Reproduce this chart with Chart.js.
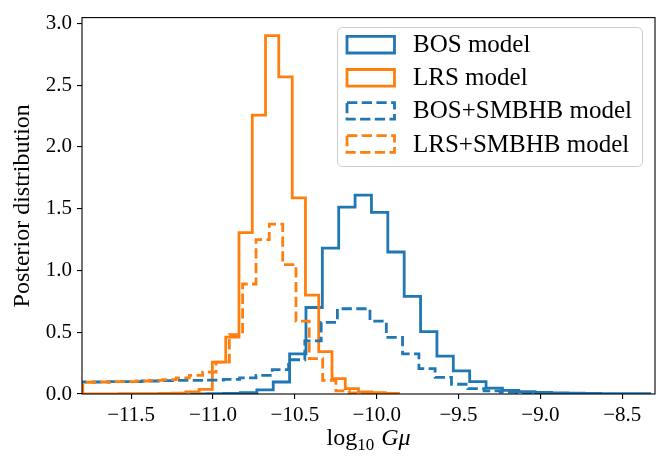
<!DOCTYPE html>
<html>
<head>
<meta charset="utf-8">
<script src="https://cdn.jsdelivr.net/npm/chart.js@4.4.1/dist/chart.umd.min.js"></script>
<style>
    body { margin: 0; background: #fff; }
    #wrap { width: 660px; height: 456px; }
</style>
</head>
<body>
<div id="wrap"><canvas id="myChart" width="660" height="456"></canvas></div>
<script>
const SERIF = "'Liberation Serif', 'DejaVu Serif', serif";

const xTicks = [-11.5, -11.0, -10.5, -10.0, -9.5, -9.0, -8.5];
const yTicks = [0, 0.5, 1.0, 1.5, 2.0, 2.5, 3.0];

const seriesLabels = ['BOS model', 'LRS model', 'BOS+SMBHB model', 'LRS+SMBHB model'];

// BOS model (solid blue)
const bosEdges = [-11.132, -11.032, -10.932, -10.832, -10.732, -10.632, -10.532, -10.432, -10.332, -10.232,
    -10.132, -10.032, -9.932, -9.832, -9.732, -9.632, -9.532, -9.432, -9.332, -9.232,
    -9.132, -9.032, -8.932, -8.832, -8.732, -8.632, -8.532, -8.432, -8.332];
const bosHeights = [0.001, 0.002, 0.004, 0.01, 0.033, 0.097, 0.325, 0.70, 1.18, 1.512,
    1.609, 1.47, 1.149, 0.79, 0.505, 0.307, 0.187, 0.10, 0.048, 0.03,
    0.02, 0.012, 0.008, 0.006, 0.004, 0.003, 0.002, 0.002];

// LRS model (solid orange)
const lrsEdges = [-11.816, -11.735, -11.653, -11.572, -11.491, -11.410, -11.328, -11.247, -11.166, -11.085,
    -11.004, -10.922, -10.841, -10.760, -10.679, -10.598, -10.516, -10.435, -10.354, -10.273,
    -10.192, -10.111, -10.029, -9.948, -9.867];
const lrsHeights = [0.001, 0.001, 0.001, 0.002, 0.002, 0.003, 0.004, 0.006, 0.017, 0.038,
    0.258, 0.46, 1.306, 2.256, 2.90, 2.567, 1.587, 0.80, 0.343, 0.124,
    0.044, 0.017, 0.01, 0.005];

// BOS+SMBHB model (dashed blue)
const bosSmbhbEdges = [-11.832, -11.732, -11.633, -11.533, -11.434, -11.334, -11.235, -11.135, -11.036, -10.936,
    -10.837, -10.737, -10.638, -10.538, -10.439, -10.339, -10.240, -10.140, -10.041, -9.941,
    -9.842, -9.742, -9.643, -9.543, -9.444, -9.344, -9.245, -9.145, -9.046, -8.946, -8.847];
const bosSmbhbHeights = [0.097, 0.097, 0.10, 0.10, 0.105, 0.108, 0.11, 0.11, 0.113, 0.118,
    0.13, 0.15, 0.197, 0.277, 0.43, 0.58, 0.69, 0.69, 0.59, 0.458,
    0.325, 0.205, 0.135, 0.079, 0.044, 0.025, 0.015, 0.009, 0.006, 0.004];

// LRS+SMBHB model (dashed orange)
const lrsSmbhbEdges = [-11.795, -11.714, -11.632, -11.551, -11.470, -11.388, -11.307, -11.225, -11.144, -11.063,
    -10.981, -10.900, -10.819, -10.737, -10.656, -10.574, -10.493, -10.412, -10.330, -10.249,
    -10.168, -10.086, -10.005];
const lrsSmbhbHeights = [0.095, 0.097, 0.10, 0.10, 0.105, 0.11, 0.116, 0.13, 0.15, 0.177,
    0.258, 0.48, 0.89, 1.25, 1.375, 1.047, 0.59, 0.287, 0.11, 0.025,
    0.008, 0.003];

// step outline like matplotlib histtype='step'
const histPoints = (edges, heights) => {
    const pts = [{x: edges[0], y: 0}];
    heights.forEach((h, i) => pts.push({x: edges[i], y: h}));
    const last = edges[edges.length - 1];
    pts.push({x: last, y: heights[heights.length - 1]});
    pts.push({x: last, y: 0});
    return pts;
};

const blue = '#1f77b4';
const orange = '#ff7f0e';
const dash = [10.3, 4.4];

const makeSet = (label, edges, heights, color, dashed, order) => ({
    label: label,
    data: histPoints(edges, heights),
    borderColor: color,
    backgroundColor: 'rgba(0,0,0,0)',
    borderWidth: 2.8,
    borderDash: dashed ? dash : [],
    borderJoinStyle: 'miter',
    stepped: 'before',
    pointRadius: 0,
    fill: false,
    order: order
});

const overlayPlugin = {
    id: 'overlay',
    afterDatasetsDraw(chart) {
        const ctx = chart.ctx;
        const a = chart.chartArea;
        ctx.save();

        // spines on top of the data
        ctx.setLineDash([]);
        ctx.strokeStyle = '#000';
        ctx.lineWidth = 1.1;
        ctx.strokeRect(a.left, a.top, a.right - a.left, a.bottom - a.top);

        // legend box
        const lx = 337.5, ly = 27.5, lw = 305, lh = 139;
        ctx.beginPath();
        ctx.roundRect(lx, ly, lw, lh, 5);
        ctx.fillStyle = 'rgba(255,255,255,0.8)';
        ctx.fill();
        ctx.strokeStyle = '#cccccc';
        ctx.lineWidth = 1;
        ctx.stroke();

        chart.data.datasets.forEach((ds, i) => {
            const cy = 44.7 + i * 33.1;
            ctx.beginPath();
            ctx.rect(347, cy - 8.3, 47.5, 16.6);
            ctx.strokeStyle = ds.borderColor;
            ctx.lineWidth = ds.borderWidth;
            ctx.lineJoin = 'miter';
            ctx.setLineDash(ds.borderDash);
            ctx.stroke();
            ctx.setLineDash([]);
            ctx.fillStyle = '#000';
            ctx.font = '25px ' + SERIF;
            ctx.textBaseline = 'middle';
            ctx.textAlign = 'left';
            ctx.fillText(ds.label, 413, cy + 1);
        });

        // x axis title: log10 G mu
        const big = '24px ' + SERIF;
        const small = '17px ' + SERIF;
        const ital = 'italic 24px ' + SERIF;
        ctx.font = big;
        const w1 = ctx.measureText('log').width;
        ctx.font = small;
        const w2 = ctx.measureText('10').width;
        ctx.font = ital;
        const w3 = ctx.measureText('Gμ').width;
        const gap = 7;
        let x = (a.left + a.right) / 2 - (w1 + w2 + gap + w3) / 2;
        const base = 445;
        ctx.textBaseline = 'alphabetic';
        ctx.fillStyle = '#000';
        ctx.font = big;
        ctx.fillText('log', x, base);
        x += w1;
        ctx.font = small;
        ctx.fillText('10', x, base + 5);
        x += w2 + gap;
        ctx.font = ital;
        ctx.fillText('Gμ', x, base);

        ctx.restore();
    }
};

Chart.defaults.color = '#000';
Chart.defaults.font.family = SERIF;

const ctx = document.getElementById('myChart');
new Chart(ctx, {
    type: 'line',
    data: {
        datasets: [
            makeSet(seriesLabels[0], bosEdges, bosHeights, blue, false, 4),
            makeSet(seriesLabels[1], lrsEdges, lrsHeights, orange, false, 3),
            makeSet(seriesLabels[2], bosSmbhbEdges, bosSmbhbHeights, blue, true, 2),
            makeSet(seriesLabels[3], lrsSmbhbEdges, lrsSmbhbHeights, orange, true, 1)
        ]
    },
    options: {
        responsive: false,
        animation: false,
        layout: { padding: { top: 14, right: 5, left: 0, bottom: 0 } },
        plugins: {
            legend: { display: false },
            tooltip: { enabled: false }
        },
        scales: {
            x: {
                type: 'linear',
                min: -11.8,
                max: -8.3,
                border: { display: false },
                grid: { drawOnChartArea: false, drawTicks: true, tickLength: 5, color: '#000', lineWidth: 1.1 },
                afterBuildTicks: axis => { axis.ticks = xTicks.map(v => ({value: v})); },
                afterFit: axis => { axis.height = 62; },
                ticks: {
                    autoSkip: false,
                    maxRotation: 0,
                    padding: 4,
                    font: { size: 21, family: SERIF },
                    callback: v => (v < 0 ? '\u2212' : '') + Math.abs(v).toFixed(1)
                }
            },
            y: {
                min: 0,
                max: 3.046,
                border: { display: false },
                grid: { drawOnChartArea: false, drawTicks: true, tickLength: 5, color: '#000', lineWidth: 1.1 },
                afterBuildTicks: axis => { axis.ticks = yTicks.map(v => ({value: v})); },
                afterFit: axis => { axis.width = 82; },
                title: {
                    display: true,
                    text: 'Posterior distribution',
                    font: { size: 24, family: SERIF },
                    padding: { top: 8, bottom: 0 }
                },
                ticks: {
                    padding: 5,
                    font: { size: 21, family: SERIF },
                    callback: v => v.toFixed(1)
                }
            }
        }
    },
    plugins: [overlayPlugin]
});
</script>
</body>
</html>
